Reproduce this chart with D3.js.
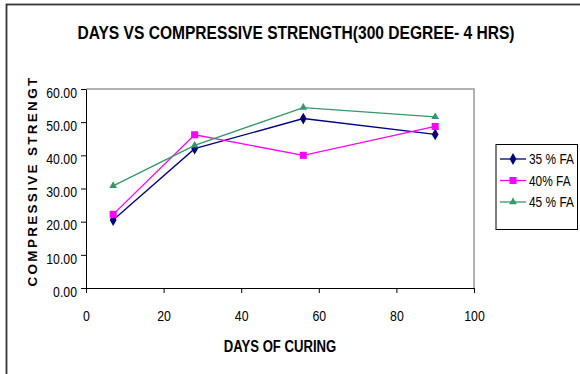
<!DOCTYPE html>
<html>
<head>
<meta charset="utf-8">
<script src="https://cdn.jsdelivr.net/npm/d3@7"></script>
<style>
  body { margin: 0; background: #fff; }
  svg { display: block; font-family: "Liberation Sans", Arial, sans-serif; }
</style>
</head>
<body>
<svg id="chart" width="580" height="374"></svg>
<script>
const days = [7, 28, 56, 90];
const fa35 = [20.5, 42.0, 51.1, 46.3];
const fa40 = [22.2, 46.2, 40.0, 48.7];
const fa45 = [30.8, 43.0, 54.4, 51.6];
const seriesNames = ['35 % FA', '40% FA', '45 % FA'];
const xTicks = [0, 20, 40, 60, 80, 100];
const yTicks = [0, 10, 20, 30, 40, 50, 60];

const MARGINS = { left: 86, right: 106, top: 89, bottom: 86 };
const NARROW = 0.82; // the original uses a condensed face
const svg = d3.select('#chart');
const width = 580, height = 374;

// text placed at (tx, ty), squeezed horizontally to look like a narrow font
function narrowText(parent, tx, ty, str) {
  return parent.append('text')
    .attr('transform', `translate(${tx},${ty}) scale(${NARROW},1)`)
    .text(str);
}

// chart frame
svg.append('rect')
  .attr('x', 6.5).attr('y', 4.5)
  .attr('width', 590).attr('height', 390)
  .attr('fill', 'none')
  .attr('stroke', '#333').attr('stroke-width', 1.8);

const x = d3.scaleLinear().domain([0, 100]).range([MARGINS.left, width - MARGINS.right]);
const y = d3.scaleLinear().domain([0, 60]).range([height - MARGINS.bottom, MARGINS.top]);

// plot area border (gray top/right)
svg.append('path')
  .attr('d', `M${x(0)},${y(60)}H${x(100)}V${y(0)}`)
  .attr('fill', 'none').attr('stroke', '#999').attr('stroke-width', 1.5);

const xAxis = svg.append('g')
  .attr('transform', `translate(0,${y(0)})`)
  .call(d3.axisBottom(x).tickValues(xTicks).tickSize(5).tickPadding(17).tickSizeOuter(0));
const yAxis = svg.append('g')
  .attr('transform', `translate(${x(0)},0)`)
  .call(d3.axisLeft(y).tickValues(yTicks).tickSize(5).tickPadding(6).tickSizeOuter(0)
    .tickFormat(d3.format('.2f')));
[xAxis, yAxis].forEach(g => {
  g.selectAll('text')
    .attr('font-size', 15).attr('fill', '#000')
    .attr('transform', `scale(${NARROW},1)`);
  g.select('.domain').attr('stroke', '#000');
  g.selectAll('line').attr('stroke', '#000');
});
yAxis.selectAll('text').attr('dy', '0.55em');

const series = [
  { name: seriesNames[0], values: fa35, color: '#000080', shape: d3.symbolDiamond, size: 40 },
  { name: seriesNames[1], values: fa40, color: '#ff00ff', shape: d3.symbolSquare, size: 50 },
  { name: seriesNames[2], values: fa45, color: '#339966', shape: d3.symbolTriangle, size: 26 }
];

const line = d3.line().x(d => x(d[0])).y(d => y(d[1]));
series.forEach(s => {
  const pts = days.map((d, i) => [d, s.values[i]]);
  svg.append('path').datum(pts)
    .attr('d', line).attr('fill', 'none')
    .attr('stroke', s.color).attr('stroke-width', 1.3);
  svg.append('g').selectAll('path').data(pts).join('path')
    .attr('transform', d => `translate(${x(d[0])},${y(d[1])})`)
    .attr('d', d3.symbol().type(s.shape).size(s.size))
    .attr('fill', s.color);
});

// title
narrowText(svg, 296, 38.5, 'DAYS VS COMPRESSIVE STRENGTH(300 DEGREE- 4 HRS)')
  .attr('text-anchor', 'middle')
  .attr('font-size', 19).attr('font-weight', 'bold');

// axis titles
narrowText(svg, x(50), 352, 'DAYS OF CURING')
  .attr('text-anchor', 'middle')
  .attr('font-size', 16).attr('font-weight', 'bold');

svg.append('text')
  .attr('transform', `translate(37,181) rotate(-90)`)
  .attr('text-anchor', 'middle')
  .attr('font-size', 13.5).attr('font-weight', 'bold')
  .attr('letter-spacing', 2.3)
  .text('COMPRESSIVE STRENGT');

// legend
const legend = svg.append('g');
legend.append('rect')
  .attr('x', 496).attr('y', 144.5)
  .attr('width', 81.5).attr('height', 85)
  .attr('fill', '#fff').attr('stroke', '#000');
series.forEach((s, i) => {
  const ly = 159 + i * 21.5;
  legend.append('line')
    .attr('x1', 500).attr('x2', 526).attr('y1', ly).attr('y2', ly)
    .attr('stroke', s.color).attr('stroke-width', 1.3);
  legend.append('path')
    .attr('transform', `translate(513,${ly})`)
    .attr('d', d3.symbol().type(s.shape).size(s.size))
    .attr('fill', s.color);
  narrowText(legend, 529, ly + 5, s.name)
    .attr('font-size', 14.5);
});
</script>
</body>
</html>
